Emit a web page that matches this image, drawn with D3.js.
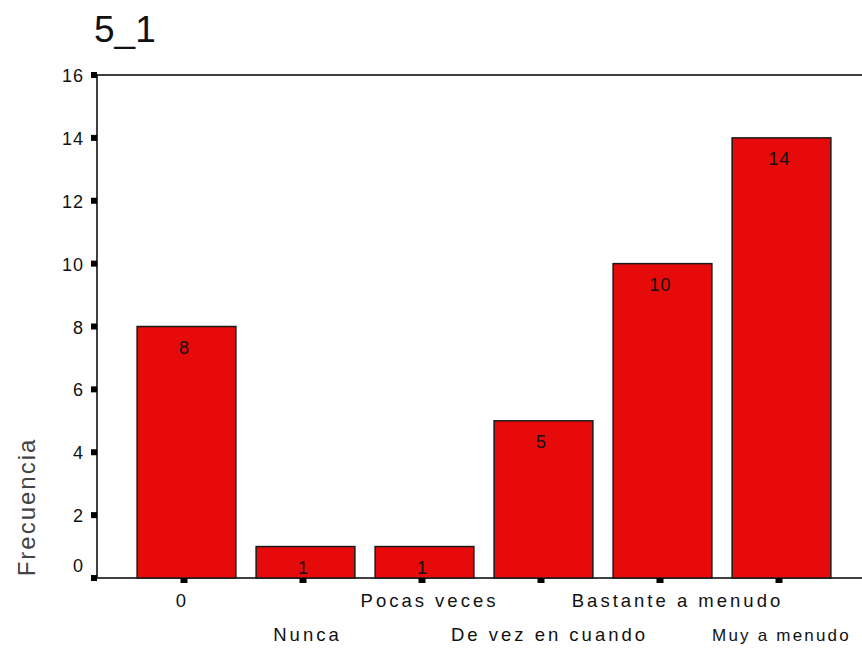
<!DOCTYPE html>
<html><head><meta charset="utf-8">
<script src="https://cdn.jsdelivr.net/npm/d3@7"></script>
<style>body{margin:0;background:#fff;}svg{display:block;}</style>
</head><body>
<svg id="chart" width="862" height="651"></svg>
<script>
const categories = ["0", "Nunca", "Pocas veces", "De vez en cuando", "Bastante a menudo", "Muy a menudo"];
const values = [8, 1, 1, 5, 10, 14];
const yTicks = [0, 2, 4, 6, 8, 10, 12, 14, 16];
const title = "5_1";
const yTitle = "Frecuencia";

// layout: small horizontal nudges of the category labels relative to their ticks
const labelNudge = [-1, 5, 8, 9, 18, 3];

const svg = d3.select("#chart");
const font = "'Liberation Sans', Arial, sans-serif";
const axisX = 97, plotTop = 75, plotBottom = 578;

const x = d3.scaleBand().domain(categories).range([127, 841]).paddingInner(0.17).paddingOuter(0.085);
const y = d3.scaleLinear().domain([0, 16]).range([plotBottom, plotTop]);

// frame lines
svg.append("line").attr("x1", axisX).attr("x2", 862).attr("y1", plotTop).attr("y2", plotTop).attr("stroke", "#000").attr("stroke-width", 1.5);
svg.append("line").attr("x1", axisX).attr("x2", 862).attr("y1", plotBottom).attr("y2", plotBottom).attr("stroke", "#000").attr("stroke-width", 1.5);
svg.append("line").attr("x1", axisX).attr("x2", axisX).attr("y1", plotTop).attr("y2", plotBottom).attr("stroke", "#000").attr("stroke-width", 1.5);

// bars
svg.selectAll("rect.bar").data(values).enter().append("rect")
  .attr("class", "bar")
  .attr("x", (d, i) => x(categories[i]))
  .attr("width", x.bandwidth())
  .attr("y", d => y(d))
  .attr("height", d => plotBottom - y(d))
  .attr("fill", "#e60a0a").attr("stroke", "#1a1a1a").attr("stroke-width", 1.5);

// value labels
svg.selectAll("text.val").data(values).enter().append("text")
  .attr("x", (d, i) => x(categories[i]) + x.bandwidth() / 2 - 2)
  .attr("y", d => y(d) + 27)
  .attr("text-anchor", "middle").attr("font-family", font).attr("font-size", 18)
  .attr("letter-spacing", 1).attr("fill", "#111").text(d => d);

// y ticks
yTicks.forEach(t => {
  svg.append("rect").attr("x", axisX - 6).attr("y", y(t) - 3).attr("width", 6).attr("height", 6).attr("fill", "#000");
  svg.append("text").attr("x", 84).attr("y", y(t) + (t === 0 ? -6 : 7))
    .attr("text-anchor", "end").attr("font-family", font).attr("font-size", 18)
    .attr("letter-spacing", 1).attr("fill", "#111").text(t);
});

// x ticks and labels
categories.forEach((c, i) => {
  const cx = x(c) + x.bandwidth() / 2 - 3;
  const last = i === categories.length - 1;
  svg.append("rect").attr("x", cx - 3).attr("y", plotBottom).attr("width", 7).attr("height", 5).attr("fill", "#000");
  svg.append("text").attr("x", cx + labelNudge[i]).attr("y", i % 2 === 0 ? 607 : 641)
    .attr("text-anchor", "middle").attr("font-family", font).attr("font-size", last ? 17 : 18.5)
    .attr("letter-spacing", last ? 2.2 : 3).attr("fill", "#111").text(c);
});

// title
svg.append("text").attr("x", 94).attr("y", 42).attr("font-family", font).attr("font-size", 37).attr("fill", "#111").text(title);

// y axis title
svg.append("text").attr("transform", "translate(35,507) rotate(-90)")
  .attr("text-anchor", "middle").attr("font-family", font).attr("font-size", 24)
  .attr("letter-spacing", 2).attr("fill", "#444").text(yTitle);
</script>
</body></html>
